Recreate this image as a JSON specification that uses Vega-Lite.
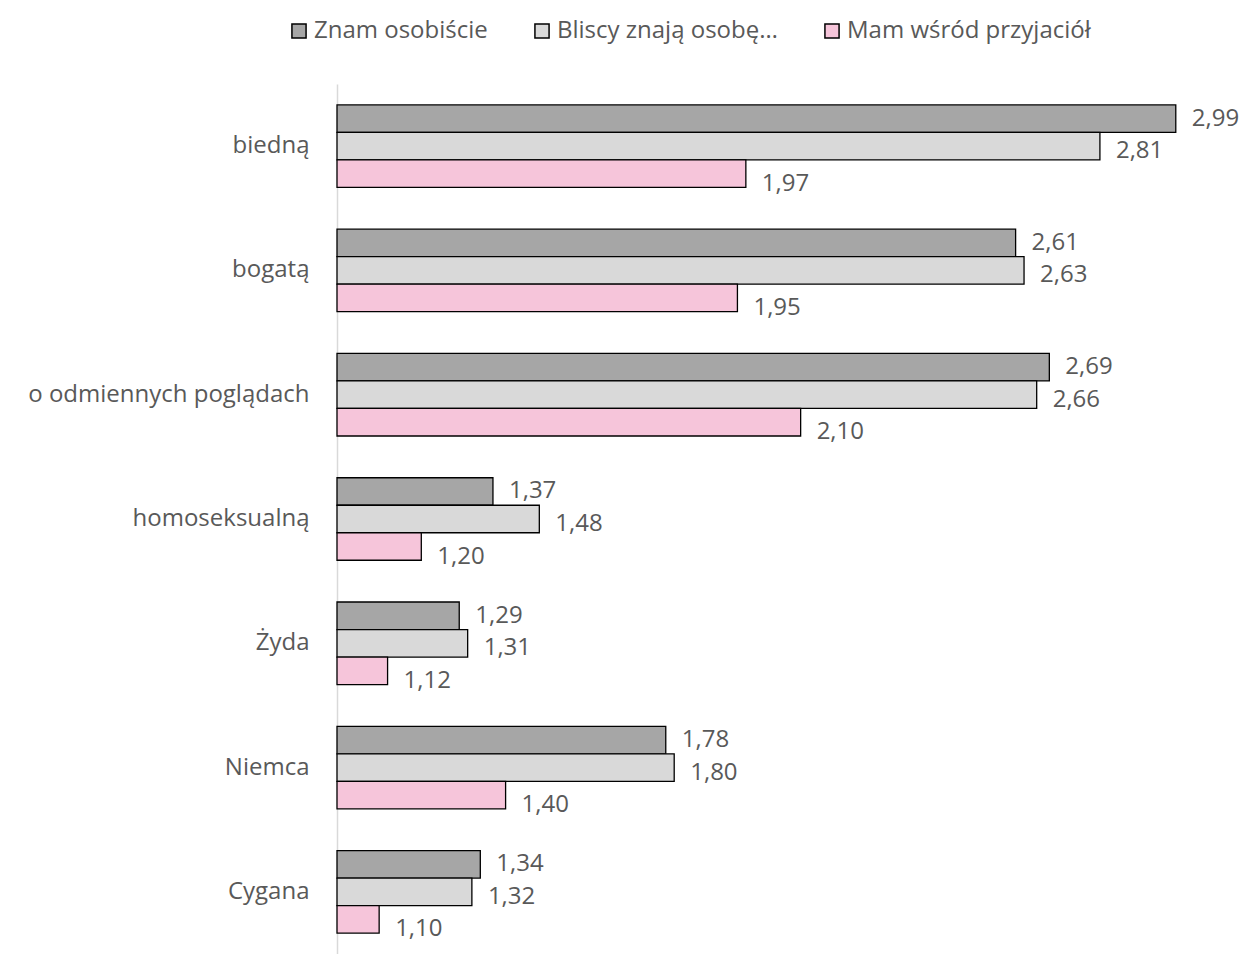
{
  "$schema": "https://vega.github.io/schema/vega-lite/v6.json",
  "width": 843,
  "height": 870,
  "autosize": "none",
  "padding": {"left": 337, "top": 84, "right": 66, "bottom": 0},
  "background": "white",
  "config": {
    "view": {"stroke": null},
    "font": "Open Sans",
    "locale": {"number": {"decimal": ",", "thousands": " ", "grouping": [3], "currency": ["", " zł"]}}
  },
  "data": {
    "values": [
      {"grupa": "biedną", "seria": "Znam osobiście", "wartosc": 2.99},
      {"grupa": "biedną", "seria": "Bliscy znają osobę…", "wartosc": 2.81},
      {"grupa": "biedną", "seria": "Mam wśród przyjaciół", "wartosc": 1.97},
      {"grupa": "bogatą", "seria": "Znam osobiście", "wartosc": 2.61},
      {"grupa": "bogatą", "seria": "Bliscy znają osobę…", "wartosc": 2.63},
      {"grupa": "bogatą", "seria": "Mam wśród przyjaciół", "wartosc": 1.95},
      {"grupa": "o odmiennych poglądach", "seria": "Znam osobiście", "wartosc": 2.69},
      {"grupa": "o odmiennych poglądach", "seria": "Bliscy znają osobę…", "wartosc": 2.66},
      {"grupa": "o odmiennych poglądach", "seria": "Mam wśród przyjaciół", "wartosc": 2.10},
      {"grupa": "homoseksualną", "seria": "Znam osobiście", "wartosc": 1.37},
      {"grupa": "homoseksualną", "seria": "Bliscy znają osobę…", "wartosc": 1.48},
      {"grupa": "homoseksualną", "seria": "Mam wśród przyjaciół", "wartosc": 1.20},
      {"grupa": "Żyda", "seria": "Znam osobiście", "wartosc": 1.29},
      {"grupa": "Żyda", "seria": "Bliscy znają osobę…", "wartosc": 1.31},
      {"grupa": "Żyda", "seria": "Mam wśród przyjaciół", "wartosc": 1.12},
      {"grupa": "Niemca", "seria": "Znam osobiście", "wartosc": 1.78},
      {"grupa": "Niemca", "seria": "Bliscy znają osobę…", "wartosc": 1.80},
      {"grupa": "Niemca", "seria": "Mam wśród przyjaciół", "wartosc": 1.40},
      {"grupa": "Cygana", "seria": "Znam osobiście", "wartosc": 1.34},
      {"grupa": "Cygana", "seria": "Bliscy znają osobę…", "wartosc": 1.32},
      {"grupa": "Cygana", "seria": "Mam wśród przyjaciół", "wartosc": 1.10}
    ]
  },
  "encoding": {
    "y": {
      "field": "grupa", "type": "nominal",
      "sort": ["biedną", "bogatą", "o odmiennych poglądach", "homoseksualną", "Żyda", "Niemca", "Cygana"],
      "scale": {"paddingInner": 0.336, "paddingOuter": 0.168},
      "axis": {"title": null, "ticks": false, "labelFontSize": 24, "labelColor": "#595959", "labelPadding": 28, "labelLimit": 400, "domainColor": "#d9d9d9", "domainWidth": 1.5, "labelFont": "Open Sans"}
    },
    "yOffset": {
      "field": "seria", "type": "nominal",
      "sort": ["Znam osobiście", "Bliscy znają osobę…", "Mam wśród przyjaciół"],
      "scale": {"paddingInner": 0, "paddingOuter": 0}
    },
    "x": {"field": "wartosc", "type": "quantitative", "scale": {"domain": [1, 3], "zero": false}, "axis": null}
  },
  "layer": [
    {
      "mark": {"type": "bar", "stroke": "black", "strokeWidth": 1.3},
      "encoding": {
        "x2": {"datum": 1},
        "color": {
          "field": "seria", "type": "nominal",
          "sort": ["Znam osobiście", "Bliscy znają osobę…", "Mam wśród przyjaciół"],
          "scale": {"domain": ["Znam osobiście", "Bliscy znają osobę…", "Mam wśród przyjaciół"], "range": ["#a6a6a6", "#d9d9d9", "#f6c5da"]},
          "legend": {
            "title": null, "orient": "none", "direction": "horizontal",
            "legendX": -50, "legendY": -65,
            "symbolType": "square", "symbolSize": 200, "symbolStrokeColor": "black", "symbolStrokeWidth": 1.5,
            "labelFontSize": 24, "labelColor": "#595959", "labelFont": "Open Sans", "labelOffset": 3,
            "columnPadding": 42, "labelLimit": 400
          }
        }
      }
    },
    {
      "transform": [{"filter": "datum.seria === 'Znam osobiście'"}],
      "mark": {"type": "text", "align": "left", "baseline": "middle", "dx": 16, "dy": 0, "fontSize": 24, "color": "#595959", "font": "Open Sans"},
      "encoding": {"text": {"field": "wartosc", "type": "quantitative", "format": ".2f"}}
    },
    {
      "transform": [{"filter": "datum.seria === 'Bliscy znają osobę…'"}],
      "mark": {"type": "text", "align": "left", "baseline": "middle", "dx": 16, "dy": 5, "fontSize": 24, "color": "#595959", "font": "Open Sans"},
      "encoding": {"text": {"field": "wartosc", "type": "quantitative", "format": ".2f"}}
    },
    {
      "transform": [{"filter": "datum.seria === 'Mam wśród przyjaciół'"}],
      "mark": {"type": "text", "align": "left", "baseline": "middle", "dx": 16, "dy": 10, "fontSize": 24, "color": "#595959", "font": "Open Sans"},
      "encoding": {"text": {"field": "wartosc", "type": "quantitative", "format": ".2f"}}
    }
  ]
}
